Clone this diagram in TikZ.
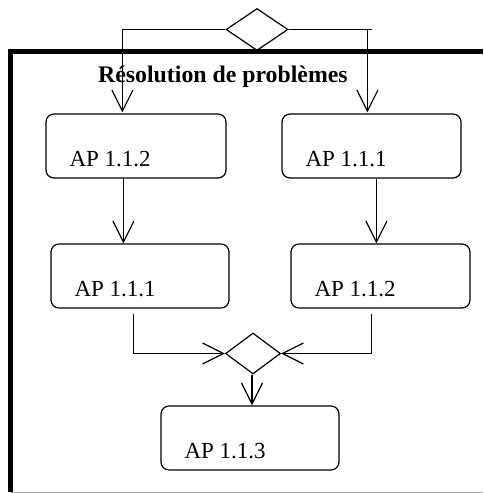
\documentclass[tikz,border=0pt]{standalone}
\usepackage{fontspec}
\setmainfont{Liberation Serif}
\usetikzlibrary{arrows.meta,shapes.geometric,calc}
\begin{document}
\begin{tikzpicture}[x=1pt,y=-1pt,
  apbox/.style={draw,line width=1.2pt,rounded corners=8pt,minimum width=179pt,minimum height=64pt,inner sep=0pt},
  gate/.style={draw,line width=1.2pt,diamond,inner sep=0pt,aspect=1.48},
  conn/.style={line width=1.2pt},
  arr/.style={conn,-{Straight Barb[length=21pt,width=21pt,line width=1.2pt]}},
  aplabel/.style={anchor=base west,inner sep=0pt,font=\fontsize{23pt}{24pt}\selectfont}]
\useasboundingbox (0,0) rectangle (483,493);
% frame
\draw[line width=5pt,line join=miter] (483,51) -- (10.5,51) -- (10.5,492);
\draw[gray!70,line width=1pt] (10.5,492) -- (483,492);
\node[anchor=base west,inner sep=0pt,font=\bfseries\fontsize{23.8pt}{24pt}\selectfont] (title) at (98,82) {Résolution de problèmes};
% gates
\node[gate,minimum width=62pt,minimum height=42pt] (d1) at (257,29.5) {};
\node[gate,minimum width=55pt,minimum height=41pt] (d2) at (253,353.5) {};
% boxes
\node[apbox,minimum width=180pt] (b1) at (136,146) {};
\node[apbox] (b2) at (371.5,146) {};
\node[apbox,minimum width=178pt] (b3) at (140,276) {};
\node[apbox] (b4) at (380.5,276) {};
\node[apbox,minimum width=178pt] (b5) at (250,438) {};
\node[aplabel] (t1) at ($(b1.south west)+(24,-12)$) {AP 1.1.2};
\node[aplabel] (t2) at ($(b2.south west)+(24,-12)$) {AP 1.1.1};
\node[aplabel] (t3) at ($(b3.south west)+(24,-12)$) {AP 1.1.1};
\node[aplabel] (t4) at ($(b4.south west)+(24,-12)$) {AP 1.1.2};
\node[aplabel] (t5) at ($(b5.south west)+(24,-12)$) {AP 1.1.3};
% connectors
\coordinate (c1) at ($(b1.north west)+(77,-1)$);
\coordinate (c2) at ($(b2.north west)+(86,-1)$);
\draw[arr] (d1.west) -| (c1);
\draw[conn] (d1.east) -- ++(83,0);
\draw[arr] (d1.east -| c2) -- (c2);
\draw[arr] ($(b1.south west)+(78,0)$) -- ($(b3.north west)+(73,0)$);
\draw[arr] ($(b2.south west)+(95,0)$) -- ($(b4.north west)+(86,0)$);
\draw[arr] ($(b3.south west)+(83,5)$) |- (d2.west);
\draw[arr] ($(b4.south west)+(81,5)$) |- (d2.east);
\draw[arr] ($(d2.south)+(-1,0)$) -- ($(b5.north)+(2,0)$);
\end{tikzpicture}
\end{document}
